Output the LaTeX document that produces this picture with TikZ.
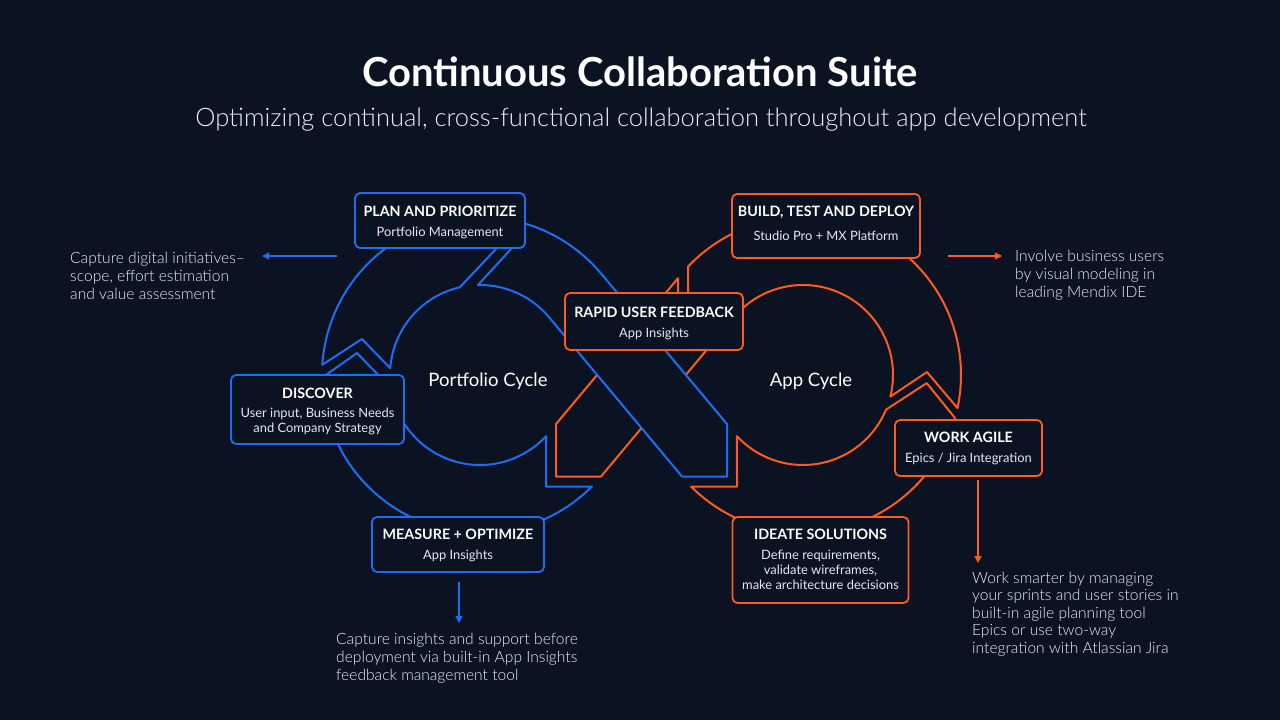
\documentclass[tikz,border=0pt]{standalone}
\usepackage{fontspec}
\setmainfont{Lato}
\newfontfamily\latolight{Lato Light}
\usetikzlibrary{arrows.meta}
\definecolor{bg}{HTML}{0B1221}
\definecolor{mxblue}{HTML}{1E6EF4}
\definecolor{mxorange}{HTML}{FF5B1F}
\definecolor{txt}{HTML}{E4E7EE}
\definecolor{anntxt}{HTML}{ECEEF3}
\begin{document}
\begin{tikzpicture}[x=1pt,y=-1pt,
  band/.style={draw=#1, line width=2pt, fill=bg, line join=round},
  box/.style={draw=#1, line width=1.8pt, fill=bg, rounded corners=5pt, inner sep=0pt},
  btitle/.style={font=\fontsize{14.3}{16}\selectfont\bfseries, text=white, anchor=base, inner sep=0pt},
  bsub/.style={font=\fontsize{12.9}{15}\selectfont, text=txt, anchor=base, inner sep=0pt},
  ann/.style={font=\latolight\fontsize{15.6}{18}\selectfont, text=anntxt, align=left, anchor=north west, inner sep=0pt},
  annarrow/.style={draw=#1, line width=1.2pt, -{Triangle[length=7pt,width=7pt]}},
  cyc/.style={font=\fontsize{18.5}{20}\selectfont, text=white, anchor=base, inner sep=0pt}
]
\fill[bg] (0,0) rectangle (1280,720);
\useasboundingbox (0,0) rectangle (1280,720);

% ---------- orange pieces (right loop) ----------
% diagonal piece
\draw[band=mxorange] (678,278.2) -- (556,424.1) -- (556,476.5) -- (601,476.5) -- (723.9,329.3) -- (678,329.3) -- cycle;
% bottom piece
\draw[band=mxorange] (691.1,486.5)
  -- plot[domain=135.1:15.8,samples=70] ({803+158*cos(\x)},{375+158*sin(\x)})
  -- (926.7,383.1) -- (886.1,409.6)
  -- plot[domain=22.6:137.2,samples=70] ({803+90*cos(\x)},{375+90*sin(\x)})
  -- (737,486.5) -- cycle;
% top piece
\draw[band=mxorange] (957.5,408.1)
  -- plot[domain=12.1:-136.7,samples=90] ({803+158*cos(\x)},{375+158*sin(\x)})
  -- (688,319.3) -- (732.2,319.3) -- (733.9,317.3)
  -- plot[domain=-140.16:13.9,samples=90] ({803+90*cos(\x)},{375+90*sin(\x)})
  -- (926.96,372) -- cycle;

% ---------- blue pieces (left loop) ----------
% bottom + left piece
\draw[band=mxblue] (591.9,486.5)
  -- plot[domain=44.9:179,samples=70] ({480+158*cos(\x)},{375+158*sin(\x)})
  -- (357,353) -- (391,388.2)
  -- plot[domain=171.6:42.8,samples=70] ({480+90*cos(\x)},{375+90*sin(\x)})
  -- (546,486.5) -- cycle;
% upper-left piece
\draw[band=mxblue] (322.3,364.8)
  -- plot[domain=183.7:263.7,samples=50] ({480+158*cos(\x)},{375+158*sin(\x)})
  -- (496,249) -- (459.8,287.3)
  -- plot[domain=257:184.3,samples=50] ({480+90*cos(\x)},{375+90*sin(\x)})
  -- (362,339) -- cycle;
% upper-right piece + diagonal
\draw[band=mxblue] (478.6,217)
  -- plot[domain=-90.5:-39.84,samples=40] ({480+158*cos(\x)},{375+158*sin(\x)})
  -- (727,424.1) -- (727,476.5) -- (682,476.5) -- (549.1,317.3)
  -- plot[domain=-39.84:-91.3,samples=40] ({480+90*cos(\x)},{375+90*sin(\x)})
  -- (512,248) -- cycle;

% ---------- titles ----------
\node[font=\fontsize{40}{44}\selectfont\bfseries, text=white] (title) at (640,72) {Continuous Collaboration Suite};
\node[font=\latolight\fontsize{25.5}{30}\selectfont, text=anntxt] (subtitle) at (641,120) {Optimizing continual, cross-functional collaboration throughout app development};

% ---------- cycle labels ----------
\node[cyc] (pcycle) at (488,386.5) {Portfolio Cycle};
\node[cyc] (acycle) at (811,386.5) {App Cycle};

% ---------- boxes ----------
\node[box=mxblue, minimum width=170pt, minimum height=55pt] (plan) at (440,220.5) {};
\node[btitle] (plan-t) at (440,216.8) {PLAN AND PRIORITIZE};
\node[bsub] (plan-s) at (440,236.3) {Portfolio Management};

\node[box=mxblue, minimum width=173pt, minimum height=69pt] (discover) at (317.5,409.5) {};
\node[btitle] (discover-t) at (317.5,398.4) {DISCOVER};
\node[bsub] (discover-s1) at (317.5,417.9) {User input, Business Needs};
\node[bsub] (discover-s2) at (317.5,432.9) {and Company Strategy};

\node[box=mxblue, minimum width=172pt, minimum height=55pt] (measure) at (458,544.5) {};
\node[btitle] (measure-t) at (458,539.1) {MEASURE + OPTIMIZE};
\node[bsub] (measure-s) at (458,559.6) {App Insights};

\node[box=mxorange, minimum width=178pt, minimum height=57pt] (rapid) at (654,321.5) {};
\node[btitle] (rapid-t) at (654,317.4) {RAPID USER FEEDBACK};
\node[bsub] (rapid-s) at (654,337.3) {App Insights};

\node[box=mxorange, minimum width=188pt, minimum height=64pt] (build) at (826,226) {};
\node[btitle] (build-t) at (826,216.8) {BUILD, TEST AND DEPLOY};
\node[bsub] (build-s) at (826,240.6) {Studio Pro + MX Platform};

\node[box=mxorange, minimum width=147pt, minimum height=56pt] (agile) at (968.5,448) {};
\node[btitle] (agile-t) at (968.5,442.8) {WORK AGILE};
\node[bsub] (agile-s) at (968.5,462.9) {Epics / Jira Integration};

\node[box=mxorange, minimum width=176pt, minimum height=86pt] (ideate) at (820.5,560) {};
\node[btitle] (ideate-t) at (820.5,539.1) {IDEATE SOLUTIONS};
\node[bsub] (ideate-s1) at (820.5,559.6) {Define requirements,};
\node[bsub] (ideate-s2) at (820.5,574.6) {validate wireframes,};
\node[bsub] (ideate-s3) at (820.5,589.6) {make architecture decisions};

% ---------- annotations ----------
\node[ann] (annL) at (70,251.5) {Capture digital initiatives–\\scope, effort estimation\\and value assessment};
\node[ann] (annR) at (1015,249.5) {Involve business users\\by visual modeling in\\leading Mendix IDE};
\node[ann] (annB) at (336,632.5) {Capture insights and support before\\deployment via built-in App Insights\\feedback management tool};
\node[ann,font=\latolight\fontsize{15.6}{17.6}\selectfont] (annA) at (972,571.5) {Work smarter by managing\\your sprints and user stories in\\built-in agile planning tool\\Epics or use two-way\\integration with Atlassian Jira};

\coordinate (aL0) at (337,256); \coordinate (aL1) at (262,256);
\coordinate (aR0) at (948,256); \coordinate (aR1) at (1002,256);
\coordinate (aB0) at (459,582); \coordinate (aB1) at (459,623);
\coordinate (aA0) at (978,480); \coordinate (aA1) at (978,563);
\draw[annarrow=mxblue] (aL0) -- (aL1);
\draw[annarrow=mxorange] (aR0) -- (aR1);
\draw[annarrow=mxblue] (aB0) -- (aB1);
\draw[annarrow=mxorange] (aA0) -- (aA1);
\end{tikzpicture}
\end{document}
